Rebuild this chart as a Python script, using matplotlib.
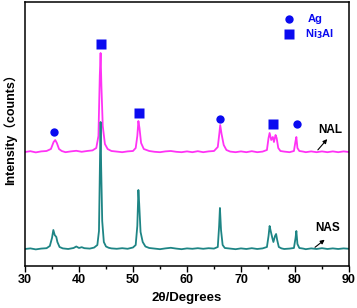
import matplotlib
matplotlib.use("Agg")
import matplotlib.pyplot as plt
from matplotlib.ticker import MultipleLocator

plt.rcParams['font.family'] = ['Liberation Sans', 'Noto Sans CJK SC', 'DejaVu Sans']
plt.rcParams['font.weight'] = 'bold'

# NAL pattern (upper, magenta)
nal_x = [30, 31, 32, 33, 34, 34.8, 35.3, 35.6, 35.9, 36.3, 36.8, 37.5, 38.5, 39.5, 40.5, 41.5,
         42.5, 43.2, 43.6, 43.85, 44.0, 44.15, 44.4, 44.8, 45.3, 46, 47, 48, 49, 50, 50.5, 50.8,
         51.0, 51.2, 51.5, 52, 53, 54, 55, 56, 57, 58, 59, 60, 61, 62, 63, 64, 65, 65.7, 66.0,
         66.15, 66.4, 66.8, 67.3, 68, 69, 70, 71, 72, 73, 74, 74.8, 75.1, 75.3, 75.6, 75.9, 76.1,
         76.4, 76.6, 76.9, 77.3, 78, 79, 79.8, 80.1, 80.25, 80.45, 80.8, 81.5, 82, 83, 84, 85, 86,
         87, 88, 89, 90]
nal_y = [114, 114.8, 113.6, 114.6, 115, 117, 124, 126, 123, 117, 115, 113.8, 114.6, 115.2, 114.2,
         115, 115.6, 118, 130, 190, 213, 180, 140, 122, 117, 115, 114.4, 113.8, 114.6, 115, 118, 130,
         145, 138, 123, 117, 115, 114.2, 113.8, 114.6, 115, 114.2, 113.8, 114.6, 113.8, 114.8, 113.8,
         114.6, 115, 119, 133, 141, 132, 121, 116, 114.4, 113.8, 114.6, 113.8, 114.8, 113.8, 114.4,
         116, 128, 133, 126, 129, 124, 131, 128, 118, 115, 114.4, 113.8, 115, 125, 129, 118, 115,
         114.4, 113.8, 114.6, 113.8, 114.6, 113.8, 114.6, 113.8, 114.6, 114]

# NAS pattern (lower, teal)
nas_x = [30, 31, 32, 33, 34, 34.6, 35.0, 35.25, 35.5, 35.8, 36.0, 36.4, 37, 38, 39, 39.5, 40, 40.5,
         41, 42, 42.8, 43.4, 43.7, 43.9, 44.0, 44.1, 44.3, 44.6, 45.0, 45.5, 46, 47, 48, 49, 50,
         50.5, 50.8, 51.0, 51.15, 51.4, 51.8, 52.3, 53, 54, 55, 56, 57, 58, 59, 60, 61, 62, 63, 64,
         65, 65.7, 65.95, 66.1, 66.3, 66.6, 67, 68, 69, 70, 71, 72, 73, 74, 74.8, 75.1, 75.3, 75.5,
         75.8, 76.0, 76.3, 76.5, 76.7, 77.0, 77.5, 78, 79, 79.8, 80.1, 80.25, 80.45, 80.8, 81.5,
         82, 83, 84, 85, 86, 87, 88, 89, 90]
nas_y = [17, 17.6, 16.6, 17.4, 17.8, 20, 28, 36, 31, 29, 24, 19, 17.6, 17, 18, 19.5, 18, 18.8,
         17.8, 17.4, 18.4, 21, 35, 110, 144, 100, 45, 24, 19.5, 18.2, 17.6, 17.2, 17.8, 17.2, 18.5,
         21, 40, 76, 62, 34, 24, 19.5, 18, 17.4, 16.8, 17.6, 18.2, 17.4, 16.8, 17.6, 17.2, 17.8,
         17.2, 17.8, 17.4, 19, 40, 58, 36, 21, 18, 17.4, 16.8, 17.6, 17, 17.8, 17, 17.6, 19, 30, 40,
         35, 28, 24, 30, 32, 26, 19, 17.6, 17, 17.4, 18, 28, 35, 22, 18, 17.4, 16.8, 17.6, 17,
         17.8, 17, 17.6, 17, 17.6, 17.2]

# phase markers above the NAL peaks
ag_x = [35.4, 66.1, 80.4]
ag_y = [134, 147, 142]
ni3al_x = [44.1, 51.1, 75.9]
ni3al_y = [222, 153, 142]

pink = '#ff33f5'
teal = '#1e8585'
blue = '#0a0af0'

fig = plt.figure(figsize=(3.57, 3.08), dpi=100)
ax = fig.add_axes([0.070, 0.1364, 0.9076, 0.8571])

ax.plot(nal_x, nal_y, color=pink, lw=1.3)
ax.plot(nas_x, nas_y, color=teal, lw=1.3)
ax.plot(ag_x, ag_y, 'o', color=blue, ms=6, mec='none')
ax.plot(ni3al_x, ni3al_y, 's', color=blue, ms=7, mec='none')

# legend drawn by hand like the original
ax.plot([78.9], [247], 'o', color=blue, ms=6, mec='none')
ax.plot([78.9], [232], 's', color=blue, ms=7, mec='none')
ax.text(82.3, 247, 'Ag', color=blue, fontsize=8, fontweight='bold', ha='left', va='center')
ax.text(81.8, 232, 'Ni$_\\mathbf{3}$Al', color=blue, fontsize=8, fontweight='bold',
        ha='left', va='center')

ax.annotate('', xy=(86.3, 129), xytext=(83.9, 114),
            arrowprops=dict(arrowstyle='-|>', color='black', lw=0.8, mutation_scale=6))
ax.text(86.6, 135.5, 'NAL', fontsize=8.5, fontweight='bold', ha='center', va='center')
ax.annotate('', xy=(85.9, 28), xytext=(83.3, 17),
            arrowprops=dict(arrowstyle='-|>', color='black', lw=0.8, mutation_scale=6))
ax.text(86.1, 38, 'NAS', fontsize=8.5, fontweight='bold', ha='center', va='center')

ax.set_xlim(30, 90)
ax.set_ylim(0, 264)
ax.set_yticks([])
ax.xaxis.set_major_locator(MultipleLocator(10))
ax.xaxis.set_minor_locator(MultipleLocator(5))
ax.tick_params(axis='x', which='major', direction='out', length=4, width=1, labelsize=9, pad=2)
ax.tick_params(axis='x', which='minor', direction='out', length=2.5, width=1)
for lab in ax.get_xticklabels():
    lab.set_fontweight('bold')
for sp in ax.spines.values():
    sp.set_linewidth(1.1)

ax.set_xlabel('2θ/Degrees', fontsize=9.5, fontweight='bold', labelpad=4)
ax.set_ylabel('Intensity（counts）', fontsize=9, fontweight='bold')
ax.yaxis.set_label_coords(-0.025, 0.53)

fig.savefig('out.png', dpi=100)
